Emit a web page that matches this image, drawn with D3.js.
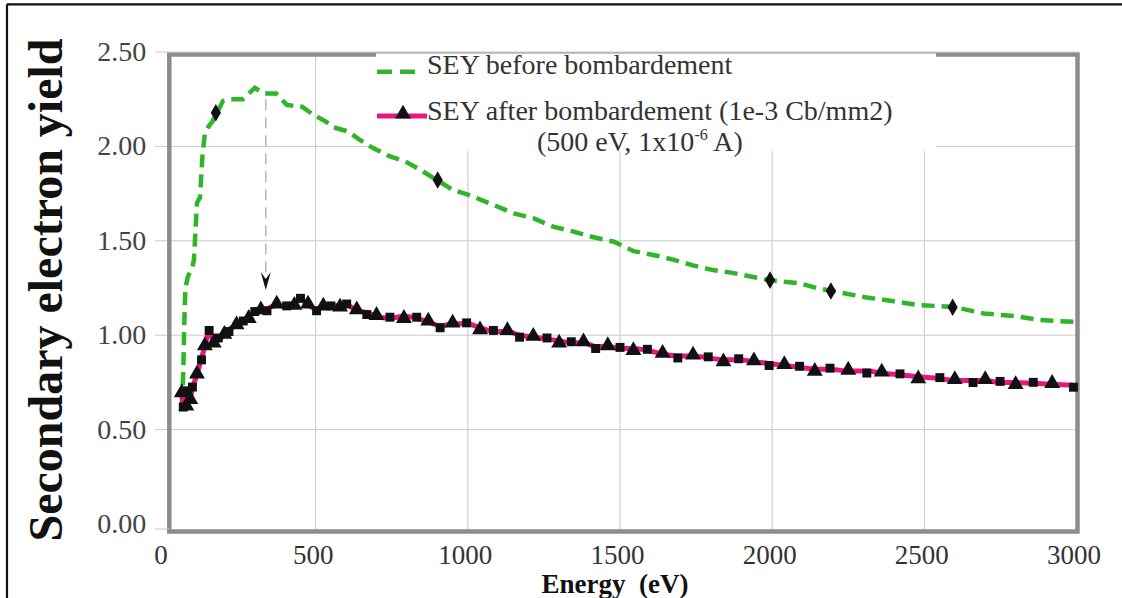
<!DOCTYPE html>
<html>
<head>
<meta charset="utf-8">
<script src="https://cdn.jsdelivr.net/npm/d3@7"></script>
<style>
  html, body { margin: 0; padding: 0; background: #fff; }
  svg { display: block; }
  svg text { font-family: "Liberation Serif", "Times New Roman", Times, serif; }
</style>
</head>
<body>
<svg id="chart" width="1122" height="598"></svg>
<script>
// ---------------- DATA ----------------
const xTicks = [0, 500, 1000, 1500, 2000, 2500, 3000];
const yTicks = [0, 0.5, 1.0, 1.5, 2.0, 2.5];

// SEY before bombardement (energy eV)
const beforeEnergy = [60, 65, 68, 72, 80, 95, 100, 105, 110, 120, 128, 136, 150, 160, 175, 195, 220, 260, 280, 300, 330, 370, 405, 455, 490, 535, 560, 605, 645, 690, 740, 795, 850, 900, 950, 1000, 1085, 1150, 1215, 1280, 1345, 1410, 1480, 1545, 1610, 1675, 1740, 1805, 1870, 1995, 2090, 2145, 2195, 2310, 2400, 2480, 2595, 2695, 2805, 2880, 3000];
const beforeSEY = [0.63, 0.80, 1.05, 1.25, 1.31, 1.36, 1.40, 1.55, 1.70, 1.73, 1.95, 2.07, 2.11, 2.13, 2.175, 2.24, 2.25, 2.25, 2.28, 2.31, 2.28, 2.28, 2.22, 2.21, 2.17, 2.13, 2.10, 2.08, 2.035, 1.99, 1.95, 1.92, 1.87, 1.82, 1.77, 1.745, 1.69, 1.645, 1.62, 1.575, 1.55, 1.52, 1.495, 1.445, 1.425, 1.40, 1.37, 1.345, 1.33, 1.29, 1.275, 1.25, 1.235, 1.20, 1.18, 1.16, 1.15, 1.115, 1.10, 1.08, 1.07];

// Diamond markers on the "before" curve
const diamondEnergy = [172, 901, 1993, 2193, 2593];
const diamondSEY = [2.178, 1.822, 1.292, 1.234, 1.148];

// SEY after bombardement
const afterEnergy = [60, 65, 75, 80, 88, 95, 110, 125, 136, 150, 165, 180, 200, 215, 240, 262, 280, 300, 320, 340, 372, 405, 430, 450, 475, 503, 525, 550, 580, 602, 635, 668, 700, 744, 790, 832, 870, 909, 950, 996, 1040, 1084, 1130, 1170, 1215, 1260, 1300, 1340, 1380, 1420, 1460, 1500, 1544, 1590, 1640, 1690, 1740, 1790, 1840, 1890, 1940, 1990, 2040, 2090, 2140, 2190, 2250, 2311, 2360, 2420, 2480, 2551, 2600, 2660, 2700, 2749, 2800, 2858, 2920, 2990];
const afterSEY = [0.69, 0.63, 0.62, 0.70, 0.67, 0.72, 0.79, 0.88, 0.94, 1.02, 0.97, 0.98, 1.00, 1.03, 1.05, 1.07, 1.10, 1.12, 1.13, 1.14, 1.16, 1.15, 1.17, 1.19, 1.16, 1.14, 1.15, 1.15, 1.16, 1.16, 1.13, 1.12, 1.10, 1.09, 1.10, 1.09, 1.07, 1.05, 1.06, 1.06, 1.04, 1.02, 1.02, 1.00, 0.99, 0.98, 0.97, 0.96, 0.96, 0.94, 0.94, 0.93, 0.93, 0.92, 0.90, 0.89, 0.89, 0.88, 0.87, 0.87, 0.86, 0.85, 0.84, 0.83, 0.82, 0.82, 0.81, 0.81, 0.80, 0.79, 0.78, 0.77, 0.76, 0.76, 0.76, 0.75, 0.75, 0.745, 0.74, 0.735];

// Arrow (energy, from SEY, to SEY)
const arrowEnergy = [336];
const arrowSEY = [2.25, 1.24];

const legendLabels = ["SEY before bombardement", "SEY after bombardement (1e-3 Cb/mm2)"];

// ---------------- DRAW ----------------
const svg = d3.select("#chart");

const x = d3.scaleLinear().domain([0, 3000]).range([163.5, 1076.5]);
const y = d3.scaleLinear().domain([0, 2.5]).range([524, 52]);

const frame = {left: 169.3, right: 1077.5, top: 54.5, bottom: 531.5};

// outer border (top + left)
svg.append("line").attr("x1", 7).attr("x2", 1122).attr("y1", 4.3).attr("y2", 4.3)
  .attr("stroke", "#111").attr("stroke-width", 2.2);
svg.append("line").attr("x1", 7).attr("x2", 7).attr("y1", 4.3).attr("y2", 598)
  .attr("stroke", "#111").attr("stroke-width", 2.2);

// vertical gridlines
svg.append("g").selectAll("line").data(xTicks.filter(d => d > 0 && d < 3000)).join("line")
  .attr("x1", d => x(d)).attr("x2", d => x(d))
  .attr("y1", frame.top).attr("y2", frame.bottom)
  .attr("stroke", "#c8c8c8").attr("stroke-width", 1);

// horizontal gridlines (below 2.5)
svg.append("g").selectAll("line").data(yTicks.filter(d => d > 0 && d < 2.5)).join("line")
  .attr("x1", 155).attr("x2", frame.right)
  .attr("y1", d => y(d)).attr("y2", d => y(d))
  .attr("stroke", "#c8c8c8").attr("stroke-width", 1);

// frame
svg.append("rect")
  .attr("x", frame.left).attr("y", frame.top)
  .attr("width", frame.right - frame.left).attr("height", frame.bottom - frame.top)
  .attr("fill", "none").attr("stroke", "#8c8c8c").attr("stroke-width", 4.5);

// legend box (white, covering frame top)
svg.append("rect").attr("x", 376).attr("y", 53.5).attr("width", 560).attr("height", 97.5)
  .attr("fill", "#fff");

// top tick / gridline at 2.5 and 0 tick stub
svg.append("line").attr("x1", 155).attr("x2", frame.right).attr("y1", y(2.5)).attr("y2", y(2.5))
  .attr("stroke", "#c8c8c8").attr("stroke-width", 1);
svg.append("line").attr("x1", 155).attr("x2", frame.left).attr("y1", 529).attr("y2", 529)
  .attr("stroke", "#c8c8c8").attr("stroke-width", 1);

// Y axis labels
const yAxis = d3.axisLeft(y).tickValues(yTicks).tickFormat(d3.format(".2f")).tickSize(0).tickPadding(23);
const gy = svg.append("g").attr("transform", `translate(${frame.left},0)`).call(yAxis);
gy.select(".domain").remove();
gy.attr("font-family", null);
gy.selectAll("text").attr("font-size", 28).attr("fill", "#444").attr("dy", "0.3em");

// X axis labels
const xAxis = d3.axisBottom(x).tickValues(xTicks).tickFormat(d3.format("d")).tickSize(0).tickPadding(13);
const gx = svg.append("g").attr("transform", `translate(0,${frame.bottom})`).call(xAxis);
gx.select(".domain").remove();
gx.attr("font-family", null);
gx.selectAll("text").attr("font-size", 27).attr("fill", "#333").attr("dx", -3);

// axis titles
svg.append("text").attr("transform", "translate(62,290) rotate(-90)")
  .attr("text-anchor", "middle").attr("font-weight", "bold")
  .attr("font-size", 48).attr("fill", "#111").text("Secondary electron yield");
svg.append("text").attr("x", 615).attr("y", 593)
  .attr("text-anchor", "middle").attr("font-weight", "bold")
  .attr("font-size", 27).attr("fill", "#111").attr("xml:space", "preserve").text("Energy  (eV)");

// arrow
svg.append("line")
  .attr("x1", x(arrowEnergy[0])).attr("x2", x(arrowEnergy[0]))
  .attr("y1", y(arrowSEY[0])).attr("y2", y(arrowSEY[1]) - 10)
  .attr("stroke", "#b5b5b5").attr("stroke-width", 1.5).attr("stroke-dasharray", "11,7");
{
  const ax = x(arrowEnergy[0]), ay = y(arrowSEY[1]);
  svg.append("path")
    .attr("d", `M${ax},${ay} L${ax - 5},${ay - 18} L${ax},${ay - 11} L${ax + 5},${ay - 18} Z`)
    .attr("fill", "#111");
}

// before curve
const beforeData = beforeEnergy.map((e, i) => [e, beforeSEY[i]]);
const afterData = afterEnergy.map((e, i) => [e, afterSEY[i]]);
const line = d3.line().x(d => x(d[0])).y(d => y(d[1]));

svg.append("path").datum(beforeData).attr("d", line)
  .attr("fill", "none").attr("stroke", "#2eb52a").attr("stroke-width", 4.5)
  .attr("stroke-dasharray", "13,7");

// diamonds
svg.append("g").selectAll("path").data(diamondEnergy.map((e, i) => [e, diamondSEY[i]])).join("path")
  .attr("transform", d => `translate(${x(d[0])},${y(d[1])})`)
  .attr("d", d3.symbol().type(d3.symbolDiamond).size(90))
  .attr("fill", "#111");

// after curve
svg.append("path").datum(afterData).attr("d", line.curve(d3.curveMonotoneX))
  .attr("fill", "none").attr("stroke", "#e8177f").attr("stroke-width", 5);

svg.append("g").selectAll("path").data(afterData).join("path")
  .attr("transform", (d, i) => `translate(${x(d[0])},${y(d[1]) + (i % 3 === 1 ? 2 : -1)})`)
  .attr("d", (d, i) => d3.symbol().type(i % 2 === 0 ? d3.symbolTriangle : d3.symbolSquare).size(i % 2 === 0 ? 110 : 80)())
  .attr("fill", "#111");

// legend
const lg = svg.append("g");
lg.append("line").attr("x1", 377).attr("x2", 415).attr("y1", 71.7).attr("y2", 71.7)
  .attr("stroke", "#2eb52a").attr("stroke-width", 4.5).attr("stroke-dasharray", "15,8");
lg.append("text").attr("x", 427).attr("y", 74).attr("font-size", 28)
  .attr("fill", "#333").text(legendLabels[0]);
lg.append("line").attr("x1", 377).attr("x2", 427).attr("y1", 116).attr("y2", 116)
  .attr("stroke", "#e8177f").attr("stroke-width", 5);
lg.append("path").attr("transform", "translate(403,114)")
  .attr("d", d3.symbol().type(d3.symbolTriangle).size(110)).attr("fill", "#111");
lg.append("text").attr("x", 427).attr("y", 120).attr("font-size", 28)
  .attr("fill", "#333").text(legendLabels[1]);
const t3 = lg.append("text").attr("x", 537).attr("y", 151).attr("font-size", 28)
  .attr("fill", "#333");
t3.append("tspan").text("(500 eV, 1x10");
t3.append("tspan").attr("font-size", 16).attr("dy", -11).text("-6");
t3.append("tspan").attr("dy", 11).text(" A)");
</script>
</body>
</html>
